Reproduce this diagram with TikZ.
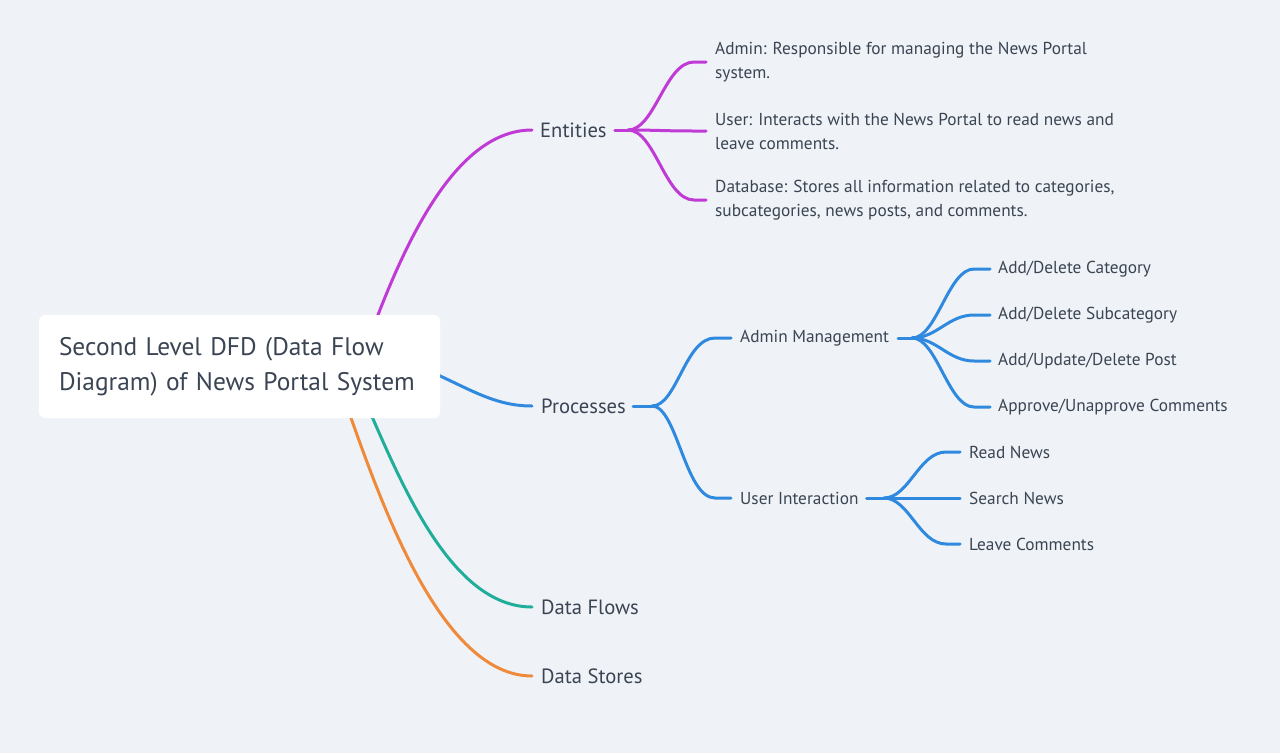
\documentclass[tikz,border=0pt]{standalone}
\usepackage{fontspec}
\setmainfont{PT Sans}
\usetikzlibrary{calc,backgrounds}
\definecolor{bg}{HTML}{EFF3F7}
\definecolor{txt}{HTML}{3A4453}
\definecolor{cmag}{HTML}{C03AD6}
\definecolor{cblue}{HTML}{2F89DE}
\definecolor{cteal}{HTML}{20AE9A}
\definecolor{corange}{HTML}{EF8A3A}
\begin{document}
\begin{tikzpicture}[x=1pt,y=-1pt,
  leaf/.style={anchor=west,inner sep=0pt,text=txt,font=\fontsize{17.3}{24}\selectfont,align=left},
  subnode/.style={anchor=west,inner sep=0pt,text=txt,font=\fontsize{17.3}{24}\selectfont},
  branch/.style={anchor=west,inner sep=0pt,text=txt,font=\fontsize{20.6}{24}\selectfont},
  edge/.style={line width=3pt,line cap=round,line join=round},
]
\useasboundingbox (0,0) rectangle (1280,753);

% root
\node[fill=white,rounded corners=6pt,minimum width=401pt,minimum height=103pt,
      text width=361pt,inner xsep=20pt,inner ysep=0pt,align=left,text=txt,
      font=\fontsize{25.4}{35}\selectfont] (root) at (239.5,366.5)
      {Second Level DFD (Data Flow\\Diagram) of News Portal System};

% main branches
\node[branch] (ent) at (540,130) {Entities};
\node[branch] (proc) at (541,406) {Processes};
\node[branch] (flow) at (541,607) {Data Flows};
\node[branch] (store) at (541,676) {Data Stores};

% entity leaves
\node[leaf] (e1) at (715,62) {Admin: Responsible for managing the News Portal\\system.};
\node[leaf] (e2) at (715,131) {User: Interacts with the News Portal to read news and\\leave comments.};
\node[leaf] (e3) at (715,200) {Database: Stores all information related to categories,\\subcategories, news posts, and comments.};

% process children
\node[subnode] (am) at (740,338) {Admin Management};
\node[subnode] (ui) at (740,498) {User Interaction};

\node[leaf] (a1) at (998,269) {Add/Delete Category};
\node[leaf] (a2) at (998,315) {Add/Delete Subcategory};
\node[leaf] (a3) at (998,361) {Add/Update/Delete Post};
\node[leaf] (a4) at (998,407) {Approve/Unapprove Comments};

\node[leaf] (u1) at (969,452) {Read News};
\node[leaf] (u2) at (969,498) {Search News};
\node[leaf] (u3) at (969,544) {Leave Comments};

% junctions
\coordinate (ej) at (628,130);
\coordinate (pj) at (652,406);
\coordinate (aj) at (912,338);
\coordinate (uj) at (884,498);

\begin{scope}[on background layer]
\fill[bg] (0,0) rectangle (1280,753);
% root branches
\draw[edge,cmag] ($(root.center)+(115,14)$) .. controls (395,260) and ($(ent.west)+(-90,0)$) .. ($(ent.west)+(-8,0)$);
\draw[edge,cblue] ($(root.center)+(170,-4)$) .. controls (465,385) and ($(proc.west)+(-51,0)$) .. ($(proc.west)+(-9,0)$);
\draw[edge,cteal] ($(root.center)+(125,33)$) .. controls (400,480) and ($(flow.west)+(-91,0)$) .. ($(flow.west)+(-9,0)$);
\draw[edge,corange] ($(root.center)+(105,33)$) .. controls (380,500) and ($(store.west)+(-101,0)$) .. ($(store.west)+(-9,0)$);
\end{scope}

% entity fan
\draw[edge,cmag] ($(ent.east)+(8,0)$) -- (ej);
\foreach \n in {e1,e2,e3}{
  \draw[edge,cmag] (ej) .. controls ($(ej)+(27,0)$) and ($(\n.west)+(-50,0)$) .. ($(\n.west)+(-21,0)$) -- ($(\n.west)+(-9,0)$);
}
% process fan
\draw[edge,cblue] ($(proc.east)+(7,0)$) -- (pj);
\foreach \n in {am,ui}{
  \draw[edge,cblue] (pj) .. controls ($(pj)+(25,0)$) and ($(\n.west)+(-55,0)$) .. ($(\n.west)+(-25,0)$) -- ($(\n.west)+(-9,0)$);
}
% admin management fan
\draw[edge,cblue] ($(am.east)+(9,0)$) -- (aj);
\foreach \n in {a1,a2,a3,a4}{
  \draw[edge,cblue] (aj) .. controls ($(aj)+(25,0)$) and ($(\n.west)+(-50,0)$) .. ($(\n.west)+(-24,0)$) -- ($(\n.west)+(-8,0)$);
}
% user interaction fan
\draw[edge,cblue] ($(ui.east)+(8,0)$) -- (uj);
\foreach \n in {u1,u2,u3}{
  \draw[edge,cblue] (uj) .. controls ($(uj)+(25,0)$) and ($(\n.west)+(-50,0)$) .. ($(\n.west)+(-23,0)$) -- ($(\n.west)+(-9,0)$);
}
\end{tikzpicture}
\end{document}
